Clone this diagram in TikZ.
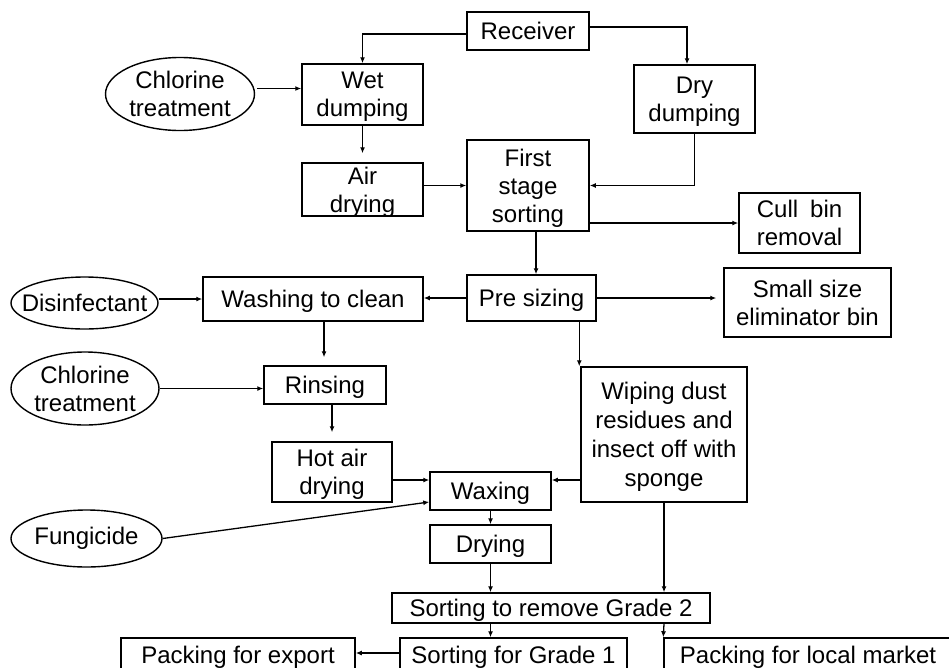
\documentclass[tikz,border=0pt]{standalone}
\usepackage{fontspec}
\setmainfont{Liberation Sans}
\usetikzlibrary{shapes.geometric,arrows.meta}
\begin{document}
\begin{tikzpicture}[x=1pt,y=-1pt,
  txt/.style={font=\fontsize{24}{28}\selectfont},
  box/.style={draw, line width=1.5pt, rectangle, inner sep=0pt, align=center, text depth=0pt, txt},
  oval/.style={draw, line width=1.4pt, ellipse, inner sep=0pt},
  arr/.style={line width=1.3pt, -{Latex[length=6pt,width=5pt]}},
  ]
\clip (0,0) rectangle (949,667);

% process steps
\node[box, minimum width=122pt, minimum height=38pt] (rec) at (528,31) {Receiver};
\node[box, minimum width=121pt, minimum height=61pt] (wet) at (362.5,94.5) {Wet\\dumping};
\node[box, minimum width=121pt, minimum height=68pt] (dry) at (694.5,99) {Dry\\dumping};
\node[box, minimum width=121pt, minimum height=53pt] (air) at (362.5,189.5) {Air\\drying};
\node[box, minimum width=122pt, minimum height=91pt] (first) at (528,185.5) {First\\stage\\sorting};
\node[box, minimum width=121pt, minimum height=60pt] (cull) at (799.5,223) {Cull\hspace{0.5em}bin\\removal};
\node[box, minimum width=129pt, minimum height=46pt] (pre) at (531.5,298) {Pre sizing};
\node[box, minimum width=167pt, minimum height=69pt] (small) at (807.5,302.5) {Small size\\eliminator bin};
\node[box, minimum width=220pt, minimum height=44pt] (wash) at (313,299) {Washing to clean};
\node[box, minimum width=122pt, minimum height=38pt] (rin) at (325,385) {Rinsing};
\node[box, minimum width=120pt, minimum height=60pt] (hot) at (332,472) {Hot air\\drying};
\node[box, minimum width=121pt, minimum height=38pt] (wax) at (490.5,491) {Waxing};
\node[box, minimum width=166pt, minimum height=135pt, font=\fontsize{24}{29}\selectfont] (wipe) at (664,434.5) {Wiping dust\\residues and\\insect off with\\sponge};
\node[box, minimum width=121pt, minimum height=38pt] (dryg) at (490.5,544) {Drying};
\node[box, minimum width=318pt, minimum height=30pt] (g2) at (551,608) {Sorting to remove Grade 2};
\node[box, minimum width=227pt, minimum height=34pt] (g1) at (513.5,655) {Sorting for Grade 1};
\node[box, minimum width=234pt, minimum height=34pt] (exp) at (238,655) {Packing for export};
\node[box, minimum width=288pt, minimum height=34pt] (loc) at (808,655) {Packing for local market};

% treatment inputs
\node[oval, minimum width=149pt, minimum height=73pt,
  label={[txt, align=center]center:Chlorine\\treatment}] (chl1) at (180,94) {};
\node[oval, minimum width=147pt, minimum height=52pt,
  label={[txt]center:Disinfectant}] (dis) at (84.5,303) {};
\node[oval, minimum width=148pt, minimum height=73pt,
  label={[txt, align=center]center:Chlorine\\treatment}] (chl2) at (85,388.5) {};
\node[oval, minimum width=151pt, minimum height=57pt,
  label={[txt]center:Fungicide}] (fun) at (86.5,538.5) {};

% helper points on the box sides
\coordinate (c1) at ([yshift=6pt]wet.west);
\coordinate (c2) at ([xshift=8pt]first.south);
\coordinate (c3) at ([xshift=11pt]wash.south);
\coordinate (c4) at ([yshift=11pt]wax.west);
\coordinate (c5) at ([yshift=11pt]wax.east);
\coordinate (c6) at ([xshift=-1pt]wipe.north west);
\coordinate (c7) at ([yshift=2pt]g1.west);

% flow
\draw[arr] ([yshift=-3pt]rec.west) -| (wet.north);
\draw[arr] ([yshift=4pt]rec.east) -| ([xshift=-7.5pt]dry.north);
\draw[arr] ([xshift=2pt]chl1.east |- c1) -- (c1);
\draw[arr, shorten >=9pt] (wet.south) -- (air.north);
\draw[arr] (air.east |- first.west) -- (first.west);
\draw[arr] (dry.south) |- (first.east);
\draw[arr] (first.east |- cull.west) -- (cull.west);
\draw[arr] (c2) -- (c2 |- pre.north);
\draw[arr, shorten >=7pt] (pre.east) -- (small.west |- pre.east);
\draw[arr] (pre.west) -- (wash.east |- pre.west);
\draw[arr] (dis.east |- wash.west) -- (wash.west);
\draw[arr, shorten >=8pt] (c3) -- (c3 |- rin.north);
\draw[arr] (chl2.east) -- (rin.west |- chl2.east);
\draw[arr, shorten >=9pt] (hot.north |- rin.south) -- (hot.north);
\draw[arr] (hot.east |- c4) -- (c4);
\draw[arr] (fun.east) -- ([yshift=-11pt]wax.west);
\draw[arr] (wipe.west |- c5) -- (c5);
\draw[arr] (c6 |- pre.south) -- (c6);
\draw[arr] (wax.south) -- (dryg.north);
\draw[arr] (dryg.south) -- (dryg.south |- g2.north);
\draw[arr] (wipe.south) -- (wipe.south |- g2.north);
\draw[arr] (dryg.south |- g2.south) -- (dryg.south |- g1.north);
\draw[arr] (wipe.south |- g2.south) -- (loc.north west);
\draw[arr] (c7) -- (exp.east |- c7);
\end{tikzpicture}
\end{document}
